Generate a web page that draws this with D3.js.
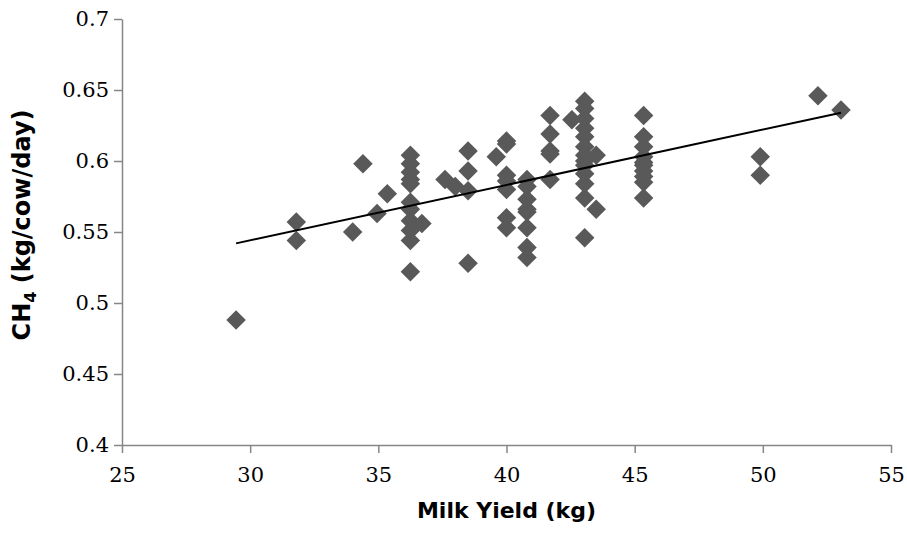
<!DOCTYPE html>
<html>
<head>
<meta charset="utf-8">
<script src="https://cdn.jsdelivr.net/npm/d3@7"></script>
<style>
  body { margin: 0; background: #fff; }
  svg { display: block; }
</style>
</head>
<body>
<div id="chart"></div>
<script>
// ---- data ----
const milkYield = [
  29.45, 31.8, 31.8, 34.0, 34.4, 34.95, 35.35,
  36.25, 36.25, 36.25, 36.25, 36.25, 36.25, 36.25, 36.25, 36.25, 36.25, 36.25,
  36.7, 37.6, 38.0,
  38.5, 38.5, 38.5, 38.5,
  39.6,
  40.0, 40.0, 40.0, 40.0, 40.0, 40.0, 40.0,
  40.8, 40.8, 40.8, 40.8, 40.8, 40.8, 40.8, 40.8,
  41.7, 41.7, 41.7, 41.7, 41.7,
  42.55,
  43.05, 43.05, 43.05, 43.05, 43.05, 43.05, 43.05, 43.05, 43.05, 43.05, 43.05, 43.05, 43.05,
  43.5, 43.5,
  45.35, 45.35, 45.35, 45.35, 45.35, 45.35, 45.35, 45.35, 45.35, 45.35,
  49.9, 49.9, 52.15, 53.05
];
const methane = [
  0.488, 0.557, 0.544, 0.550, 0.598, 0.563, 0.577,
  0.604, 0.598, 0.592, 0.587, 0.584, 0.571, 0.566, 0.558, 0.551, 0.544, 0.522,
  0.556, 0.587, 0.582,
  0.607, 0.593, 0.579, 0.528,
  0.603,
  0.614, 0.612, 0.590, 0.586, 0.580, 0.560, 0.553,
  0.587, 0.582, 0.573, 0.566, 0.564, 0.553, 0.539, 0.532,
  0.632, 0.619, 0.607, 0.605, 0.587,
  0.629,
  0.642, 0.637, 0.630, 0.623, 0.617, 0.610, 0.604, 0.597, 0.591, 0.584, 0.574, 0.546, 0.600,
  0.604, 0.566,
  0.632, 0.617, 0.610, 0.603, 0.599, 0.597, 0.593, 0.589, 0.585, 0.574,
  0.603, 0.590, 0.646, 0.636
];
// linear trendline end points (as drawn)
const trendX = [29.45, 53.05];
const trendY = [0.542, 0.634];

const xTicks = [25, 30, 35, 40, 45, 50, 55];
const yTicks = [0.4, 0.45, 0.5, 0.55, 0.6, 0.65, 0.7];

// ---- layout ----
const width = 907, height = 535;
const margin = { top: 19, right: 16, bottom: 90, left: 122 };

const svg = d3.select('#chart').append('svg')
  .attr('width', width)
  .attr('height', height);

const x = d3.scaleLinear().domain([25, 55]).range([margin.left, width - margin.right]);
const y = d3.scaleLinear().domain([0.4, 0.7]).range([height - margin.bottom, margin.top]);

const axisColor = '#868686';
const tickFont = '"DejaVu Serif", "Liberation Serif", serif';

const xAxis = svg.append('g')
  .attr('transform', `translate(0,${y(0.4)})`)
  .call(d3.axisBottom(x).tickValues(xTicks).tickSize(8).tickSizeOuter(0).tickPadding(14)
    .tickFormat(d3.format('d')));

const yAxis = svg.append('g')
  .attr('transform', `translate(${x(25)},0)`)
  .call(d3.axisLeft(y).tickValues(yTicks).tickSize(8).tickSizeOuter(0).tickPadding(5)
    .tickFormat(d => String(+d.toFixed(2))));

[xAxis, yAxis].forEach(a => {
  a.select('.domain').attr('stroke', axisColor).attr('stroke-width', 1.5);
  a.selectAll('.tick line').attr('stroke', axisColor).attr('stroke-width', 1.5);
  a.selectAll('.tick text')
    .attr('fill', '#000')
    .style('font-family', tickFont)
    .style('font-size', '21px');
});

// diamond markers
const diamond = d3.symbol().type(d3.symbolSquare).size(190);
svg.append('g')
  .selectAll('path')
  .data(milkYield.map((v, i) => [v, methane[i]]))
  .join('path')
  .attr('d', diamond)
  .attr('transform', d => `translate(${x(d[0])},${y(d[1])}) rotate(45)`)
  .attr('fill', '#595959');

// trendline over the markers
svg.append('line')
  .attr('x1', x(trendX[0])).attr('y1', y(trendY[0]))
  .attr('x2', x(trendX[1])).attr('y2', y(trendY[1]))
  .attr('stroke', '#000')
  .attr('stroke-width', 2);

// axis titles
const titleFont = '"DejaVu Sans", Arial, sans-serif';
svg.append('text')
  .attr('x', (x(25) + x(55)) / 2)
  .attr('y', 518)
  .attr('text-anchor', 'middle')
  .style('font-family', titleFont)
  .style('font-weight', 'bold')
  .style('font-size', '22px')
  .text('Milk Yield (kg)');

const yTitle = svg.append('text')
  .attr('transform', `translate(30,225) rotate(-90)`)
  .attr('text-anchor', 'middle')
  .style('font-family', titleFont)
  .style('font-weight', 'bold')
  .style('font-size', '24px');
yTitle.append('tspan').text('CH');
yTitle.append('tspan').attr('dy', 6).style('font-size', '16px').text('4');
yTitle.append('tspan').attr('dy', -6).text(' (kg/cow/day)');
</script>
</body>
</html>
